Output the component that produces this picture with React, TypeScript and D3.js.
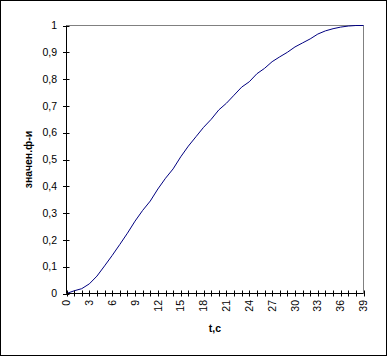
import React from "react";
import * as d3 from "d3";

const tValues: number[] = Array.from({ length: 40 }, (_, i) => i);
const fValues: number[] = [
  0, 0.01, 0.018, 0.036, 0.065, 0.103, 0.142, 0.183, 0.225, 0.27,
  0.31, 0.345, 0.39, 0.43, 0.465, 0.51, 0.55, 0.585, 0.62, 0.65,
  0.685, 0.71, 0.74, 0.77, 0.79, 0.82, 0.84, 0.865, 0.883, 0.9,
  0.92, 0.935, 0.95, 0.968, 0.98, 0.988, 0.994, 0.998, 1, 1,
];
const yTicks: number[] = [0, 0.1, 0.2, 0.3, 0.4, 0.5, 0.6, 0.7, 0.8, 0.9, 1];
const xLabelTicks: number[] = [0, 3, 6, 9, 12, 15, 18, 21, 24, 27, 30, 33, 36, 39];
const xTitle = "t,c";
const yTitle = "значен.ф-и";

const W = 388;
const H = 356;
const L = 66.5;
const R = 363.5;
const T = 25.5;
const B = 293.5;
const FONT = "Arial, 'Liberation Sans', sans-serif";

export default function App() {
  const x = d3.scaleLinear().domain([0, 39]).range([L, R]);
  const y = d3.scaleLinear().domain([0, 1]).range([B, T]);
  const line = d3
    .line<number>()
    .x((_, i) => x(tValues[i]))
    .y((d) => y(d));
  const fmt = (v: number) => (v === 0 || v === 1 ? String(v) : v.toFixed(1).replace(".", ","));

  return (
    <div style={{ position: "absolute", left: 0, top: 0 }}>
      <svg width={W} height={H} style={{ display: "block", background: "#fff" }}>
        <rect x={0.5} y={0.5} width={386} height={355} fill="#fff" stroke="#000" strokeWidth={1} />
        {/* plot border (top/right gray) */}
        <path d={`M${L},${T}H${R}V${B}`} fill="none" stroke="#808080" strokeWidth={1} />
        {/* data line */}
        <path d={line(fValues) || ""} fill="none" stroke="#000080" strokeWidth={1} />
        {/* y axis */}
        <line x1={L} x2={L} y1={T} y2={B} stroke="#000" />
        {yTicks.map((v) => (
          <g key={"y" + v}>
            <line x1={L - 3.5} x2={L + 3} y1={Math.round(y(v)) + 0.5} y2={Math.round(y(v)) + 0.5} stroke="#000" />
            <text x={57} y={y(v)} dy="0.35em" textAnchor="end" fontFamily={FONT} fontSize={10.5} fill="#000">
              {fmt(v)}
            </text>
          </g>
        ))}
        {/* x axis */}
        <line x1={L} x2={R} y1={B} y2={B} stroke="#000" />
        {tValues.map((t) => (
          <line key={"xt" + t} x1={Math.round(x(t)) + 0.5} x2={Math.round(x(t)) + 0.5} y1={B - 3} y2={B + 3} stroke="#000" />
        ))}
        {xLabelTicks.map((t) => (
          <text
            key={"xl" + t}
            transform={`translate(${x(t)},${300}) rotate(-90)`}
            dy="0.35em"
            textAnchor="end"
            fontFamily={FONT}
            fontSize={10.5}
            fill="#000"
          >
            {t}
          </text>
        ))}
        <text x={(L + R) / 2} y={332} textAnchor="middle" fontFamily={FONT} fontSize={10.5} fontWeight="bold" fill="#000">
          {xTitle}
        </text>
        <text
          transform={`translate(${32},${(T + B) / 2}) rotate(-90)`}
          textAnchor="middle"
          fontFamily={FONT}
          fontSize={10.5}
          fontWeight="bold"
          fill="#000"
        >
          {yTitle}
        </text>
      </svg>
    </div>
  );
}
